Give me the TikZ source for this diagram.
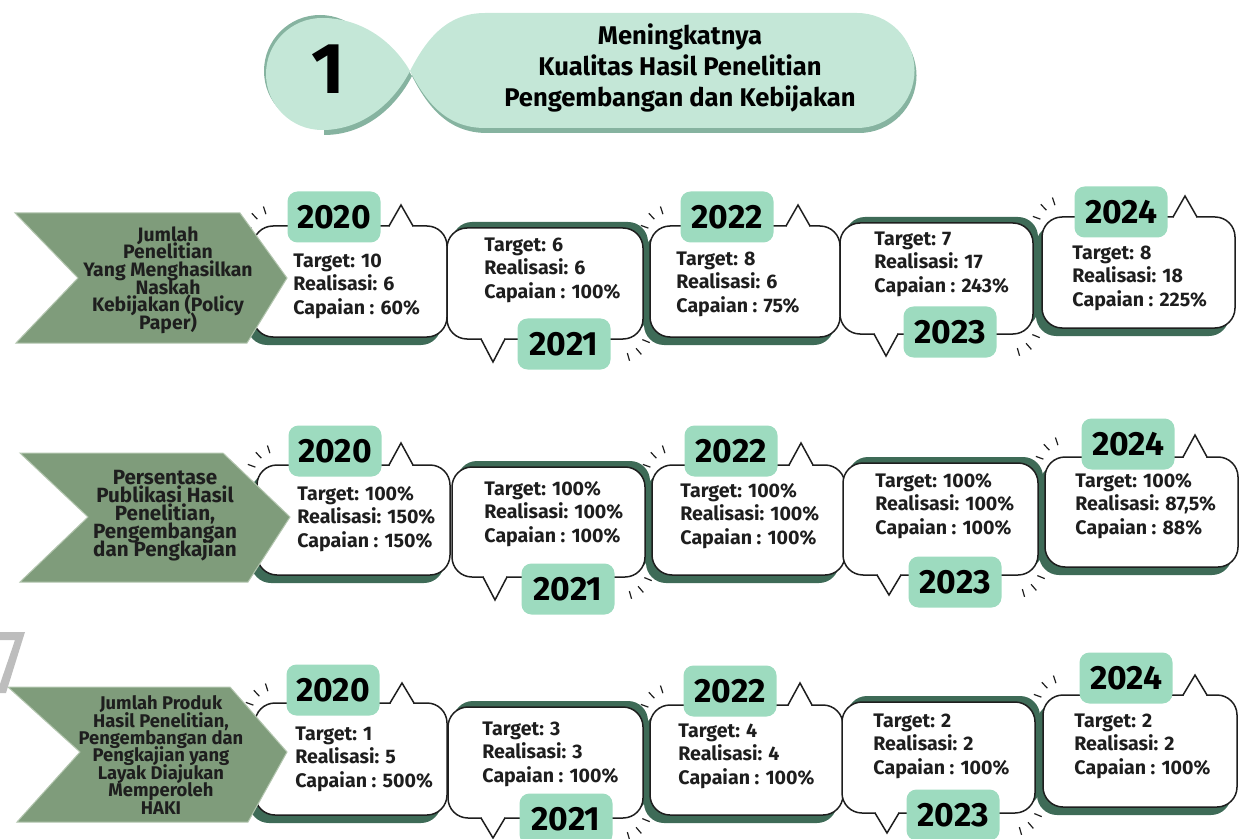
\documentclass[tikz,border=0pt]{standalone}
\usepackage{fontspec}
\setmainfont{Fira Sans}
\AtBeginDocument{\lineskiplimit=-20pt}

\definecolor{headmint}{HTML}{C4E7D7}
\definecolor{headshade}{HTML}{86B3A0}
\definecolor{tagmint}{HTML}{9DDBBF}
\definecolor{boxshade}{HTML}{3E6B57}
\definecolor{chevgreen}{HTML}{7F9C7B}
\definecolor{chevedge}{HTML}{B3C6AF}
\definecolor{inkdark}{HTML}{1E1E1E}
\definecolor{wmgray}{HTML}{BDBDBD}

\tikzset{
  bubble/.style={draw=inkdark, line width=0.75pt, fill=white, rounded corners=10pt},
  bubbleshadow/.style={fill=boxshade, rounded corners=10pt},
  tail/.style={draw=inkdark, line width=0.75pt},
  tickmark/.style={draw=inkdark, line width=0.6pt},
  yeartag/.style={fill=tagmint, rounded corners=5pt, minimum width=46.5pt, minimum height=25.5pt,
    inner sep=0pt, text=black, font=\bfseries\fontsize{16.8}{18}\selectfont},
  infotext/.style={anchor=west, align=left, inner sep=0pt, text=inkdark,
    font=\bfseries\fontsize{9.8}{11.7}\selectfont},
  chevron/.style={fill=chevgreen, draw=chevedge, line width=0.5pt},
  chevtext/.style={align=center, inner sep=0pt, text=inkdark, font=\bfseries\fontsize{9.2}{8.7}\selectfont},
  headtext/.style={align=center, inner sep=0pt, text=black, font=\bfseries\fontsize{12.8}{15.5}\selectfont},
}

\begin{document}
\begin{tikzpicture}[x=0.5pt, y=-0.5pt]
\useasboundingbox (0,0) rectangle (1240,839);

\newcommand{\headpath}{(322,18) .. controls (365,18) and (395,45) .. (410,71)
  .. controls (425,42) and (445,13) .. (485,13) -- (857,13)
  arc[start angle=-90, end angle=90, radius=57.5]
  -- (485,128) .. controls (445,128) and (425,100) .. (410,71)
  .. controls (395,100) and (365,130) .. (322,130) -- cycle}

\fill[headshade] (320,71) circle[radius=56];
\fill[headshade, shift={(2,5)}] \headpath;
\fill[headmint] (322,74) circle[radius=56];
\fill[headmint] \headpath;
\node[font=\bfseries\fontsize{36}{36}\selectfont, text=black] (hnum) at (328,69) {1};
\node[headtext] (htitle) at (680,68) {Meningkatnya\\Kualitas Hasil Penelitian\\Pengembangan dan Kebijakan};

\newcommand{\bubbles}{r1b1/1/253/226/447/337/401/205/334/217/2020/293/286/10/6/60\%,
  r1b2/2/447/228/643/339/493/362/564/344/2021/484/270/6/6/100\%,
  r1b3/3/650/226/840/337/798/205/727/217/2022/676/284/8/6/75\%,
  r1b4/4/840/223/1033/334/886/356/950/332/2023/874/264/7/17/243\%,
  r1b5/5/1042/217/1235/328/1185/196/1121/212/2024/1072/278/8/18/225\%,
  r2b1/1/257/465/450/575/401/443/335/451/2020/297/519/100\%/150\%/150\%,
  r2b2/2/452/467/645/577/495/600/568/589/2021/484/514/100\%/100\%/100\%,
  r2b3/3/652/465/845/575/801/443/731/451/2022/680/516/100\%/100\%/100\%,
  r2b4/4/843/463/1038/575/889/595/955/582/2023/875/506/100\%/100\%/100\%,
  r2b5/5/1045/457/1238/567/1195/435/1128/444/2024/1075/506/100\%/87{,}5\%/88\%,
  r3b1/1/255/703/447/815/402/683/333/690/2020/295/759/1/5/500\%,
  r3b2/2/448/707/643/818/493/838/566/819/2021/482/754/3/3/100\%,
  r3b3/3/650/705/843/815/800/683/730/691/2022/678/756/4/4/100\%,
  r3b4/4/842/702/1035/813/887/833/953/815/2023/873/746/2/2/100\%,
  r3b5/5/1043/695/1237/807/1195/675/1126/678/2024/1074/746/2/2/100\%}

\foreach \nm/\p/\xa/\ya/\xb/\yb/\tx/\ay/\gx/\gy/\yr/\lx/\ly/\tv/\rv/\cv in \bubbles {
  \ifodd\p
    \def\sx{-6}\def\sy{8}\def\by{\ya}\def\kx{\xa+20}\def\ky{\ya+10}\def\ka{200}
  \else
    \def\sx{5}\def\sy{-6}\def\by{\yb}\def\kx{\xb-22}\def\ky{\yb-8}\def\ka{22}
  \fi
  \fill[bubbleshadow] (\xa+\sx,\ya+\sy) rectangle (\xb+\sx,\yb+\sy);
  \draw[bubble] (\xa,\ya) rectangle (\xb,\yb);
  \fill[white] (\tx-12,\by) -- (\tx,\ay) -- (\tx+12,\by) -- cycle;
  \fill[white] (\tx-11,\by-2) rectangle (\tx+11,\by+2);
  \draw[tail] (\tx-12,\by) -- (\tx,\ay) -- (\tx+12,\by);
  \foreach \a in {0,27,52}
    \draw[tickmark, shift={(\kx,\ky)}] (\ka+\a:23) -- (\ka+\a:31);
  \node[yeartag] (\nm y) at (\gx,\gy) {\yr};
  \node[infotext] (\nm t) at (\lx,\ly) {Target: \tv\\Realisasi: \rv\\Capaian : \cv};
}

\fill[chevron] (15,213) -- (240,213) -- (287,278) -- (247,343) -- (16,343) -- (78,278) -- cycle;
\node[chevtext, font=\bfseries\fontsize{9.7}{8.8}\selectfont] (r1lbl) at (168,280) {Jumlah\\Penelitian\\Yang Menghasilkan\\Naskah\\Kebijakan (Policy\\Paper)};

\fill[chevron] (20,453) -- (223,453) -- (290,517) -- (248,582) -- (20,582) -- (88,517) -- cycle;
\node[chevtext, font=\bfseries\fontsize{10.3}{9}\selectfont] (r2lbl) at (165,516) {Persentase\\Publikasi Hasil\\Penelitian,\\Pengembangan\\dan Pengkajian};

\fill[chevron] (8,687) -- (230,687) -- (287,752) -- (248,822) -- (17,822) -- (80,752) -- cycle;
\node[chevtext] (r3lbl) at (161,755) {Jumlah Produk\\Hasil Penelitian,\\Pengembangan dan\\Pengkajian yang\\Layak Diajukan\\Memperoleh\\HAKI};

\fill[wmgray] (0,632) -- (25,632) -- (6,693) -- (0,693) -- (0,684) -- (15,640) -- (0,640) -- cycle;

\end{tikzpicture}
\end{document}
